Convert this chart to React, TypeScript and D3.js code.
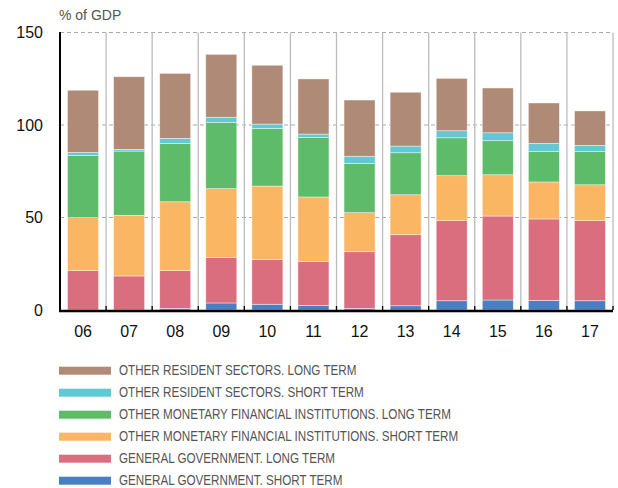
import React, { useEffect, useRef } from 'react';
import { select, scaleBand, scaleLinear, stack } from 'd3';

const years = ['06', '07', '08', '09', '10', '11', '12', '13', '14', '15', '16', '17'];

// stacked bottom to top
const ggShort = [0, 0, 0.9, 3.8, 3.1, 2.5, 0.9, 2.3, 5.0, 5.4, 5.2, 5.0];
const ggLong = [21.3, 18.4, 20.4, 24.5, 24.1, 23.8, 30.6, 38.4, 43.3, 45.4, 44.0, 43.3];
const omfiShort = [28.6, 32.8, 37.2, 37.3, 39.8, 34.8, 21.1, 21.6, 24.3, 22.3, 20.0, 19.4];
const omfiLong = [33.7, 34.7, 31.6, 35.7, 31.2, 32.2, 26.7, 22.7, 20.5, 18.4, 16.4, 17.9];
const orsShort = [1.6, 0.9, 2.7, 2.9, 2.3, 1.8, 3.8, 3.6, 3.8, 4.3, 4.5, 3.4];
const orsLong = [33.6, 39.3, 35.1, 34.0, 31.8, 29.8, 30.4, 29.1, 28.3, 24.2, 21.8, 18.6];

const seriesNames = [
  'GENERAL GOVERNMENT. SHORT TERM',
  'GENERAL GOVERNMENT. LONG TERM',
  'OTHER MONETARY FINANCIAL INSTITUTIONS. SHORT TERM',
  'OTHER MONETARY FINANCIAL INSTITUTIONS. LONG TERM',
  'OTHER RESIDENT SECTORS. SHORT TERM',
  'OTHER RESIDENT SECTORS. LONG TERM',
];
const seriesValues = [ggShort, ggLong, omfiShort, omfiLong, orsShort, orsLong];
const colors = ['#4a80c2', '#db6e7e', '#fbb664', '#5ebb6a', '#62c8d3', '#af8a77'];
const yTicks = [0, 50, 100, 150];

const width = 618;
const height = 488;

const App: React.FC = () => {
  const svgRef = useRef<SVGSVGElement | null>(null);

  useEffect(() => {
    if (!svgRef.current) return;
    const svg = select(svgRef.current);
    svg.selectAll('*').remove();

    const left = 60;
    const right = 613;
    const top = 32.5;
    const bottom = 310;

    const x = scaleBand<string>().domain(years).range([left, right]).paddingInner(0).paddingOuter(0);
    const y = scaleLinear().domain([0, 150]).range([bottom, top]);

    const rows = years.map((yr, i) => {
      const r: Record<string, number | string> = { year: yr };
      seriesNames.forEach((n, k) => (r[n] = seriesValues[k][i]));
      return r;
    });
    const stacked = stack<Record<string, number | string>>().keys(seriesNames)(rows);

    // horizontal dashed grid
    svg.append('g')
      .selectAll('line')
      .data(yTicks.filter((t) => t > 0))
      .enter()
      .append('line')
      .attr('x1', left)
      .attr('x2', right)
      .attr('y1', (d) => y(d))
      .attr('y2', (d) => y(d))
      .attr('stroke', '#aaa')
      .attr('stroke-width', 1)
      .attr('stroke-dasharray', '4,3');

    // vertical grid at band edges
    const edges = years.slice(1).map((yr) => x(yr) as number).concat([right]);
    svg.append('g')
      .selectAll('line')
      .data(edges)
      .enter()
      .append('line')
      .attr('x1', (d) => d)
      .attr('x2', (d) => d)
      .attr('y1', top)
      .attr('y2', bottom)
      .attr('stroke', '#bbbcc0')
      .attr('stroke-width', 1.3);

    // bars
    const barW = 31;
    const g = svg.append('g');
    stacked.forEach((layer, k) => {
      g.append('g')
        .selectAll('rect')
        .data(layer)
        .enter()
        .append('rect')
        .attr('x', (d) => (x(d.data.year as string) as number) + (x.bandwidth() - barW) / 2)
        .attr('width', barW)
        .attr('y', (d) => y(d[1]))
        .attr('height', (d) => Math.max(0, y(d[0]) - y(d[1])))
        .attr('fill', colors[k])
        .attr('stroke', 'rgba(255,255,255,0.6)')
        .attr('stroke-width', (d) => (d[1] - d[0] > 0 ? 0.7 : 0));
    });

    // axes
    svg.append('line')
      .attr('x1', left).attr('x2', left)
      .attr('y1', top - 0.5).attr('y2', bottom + 1)
      .attr('stroke', '#000').attr('stroke-width', 2);
    svg.append('line')
      .attr('x1', left - 1).attr('x2', right)
      .attr('y1', bottom + 1).attr('y2', bottom + 1)
      .attr('stroke', '#000').attr('stroke-width', 2.3);
    svg.append('g')
      .selectAll('line')
      .data(edges)
      .enter()
      .append('line')
      .attr('x1', (d) => d).attr('x2', (d) => d)
      .attr('y1', bottom - 4).attr('y2', bottom)
      .attr('stroke', '#000').attr('stroke-width', 1.3);

    const font = '"Liberation Sans", Arial, Helvetica, sans-serif';

    svg.append('g')
      .selectAll('text')
      .data(yTicks)
      .enter()
      .append('text')
      .attr('x', 43)
      .attr('y', (d) => y(d))
      .attr('dy', '0.35em')
      .attr('text-anchor', 'end')
      .attr('font-family', font)
      .attr('font-size', 16)
      .attr('fill', '#111')
      .text((d) => d);

    svg.append('g')
      .selectAll('text')
      .data(years)
      .enter()
      .append('text')
      .attr('x', (d) => (x(d) as number) + x.bandwidth() / 2)
      .attr('y', 336.5)
      .attr('text-anchor', 'middle')
      .attr('font-family', font)
      .attr('font-size', 16)
      .attr('fill', '#111')
      .text((d) => d);

    svg.append('text')
      .attr('x', 59)
      .attr('y', 20)
      .attr('font-family', font)
      .attr('font-size', 14)
      .attr('fill', '#555')
      .text('% of GDP');

    // legend, top entry is the top series; text squeezed to look condensed
    const legendOrder = seriesNames.map((n, k) => k).reverse();
    const lg = svg.append('g');
    legendOrder.forEach((k, i) => {
      const cy = 370.7 + i * 22;
      lg.append('rect')
        .attr('x', 59)
        .attr('y', cy - 4)
        .attr('width', 52)
        .attr('height', 8)
        .attr('fill', colors[k]);
      lg.append('text')
        .attr('transform', `translate(119,${cy + 4}) scale(0.815,1)`)
        .attr('font-family', font)
        .attr('font-size', 14.3)
        .attr('fill', '#555')
        .text(seriesNames[k]);
    });
  }, []);

  return (
    <svg
      ref={svgRef}
      width={width}
      height={height}
      style={{ display: 'block', position: 'absolute', left: 0, top: 0 }}
    ></svg>
  );
};

export default App;
